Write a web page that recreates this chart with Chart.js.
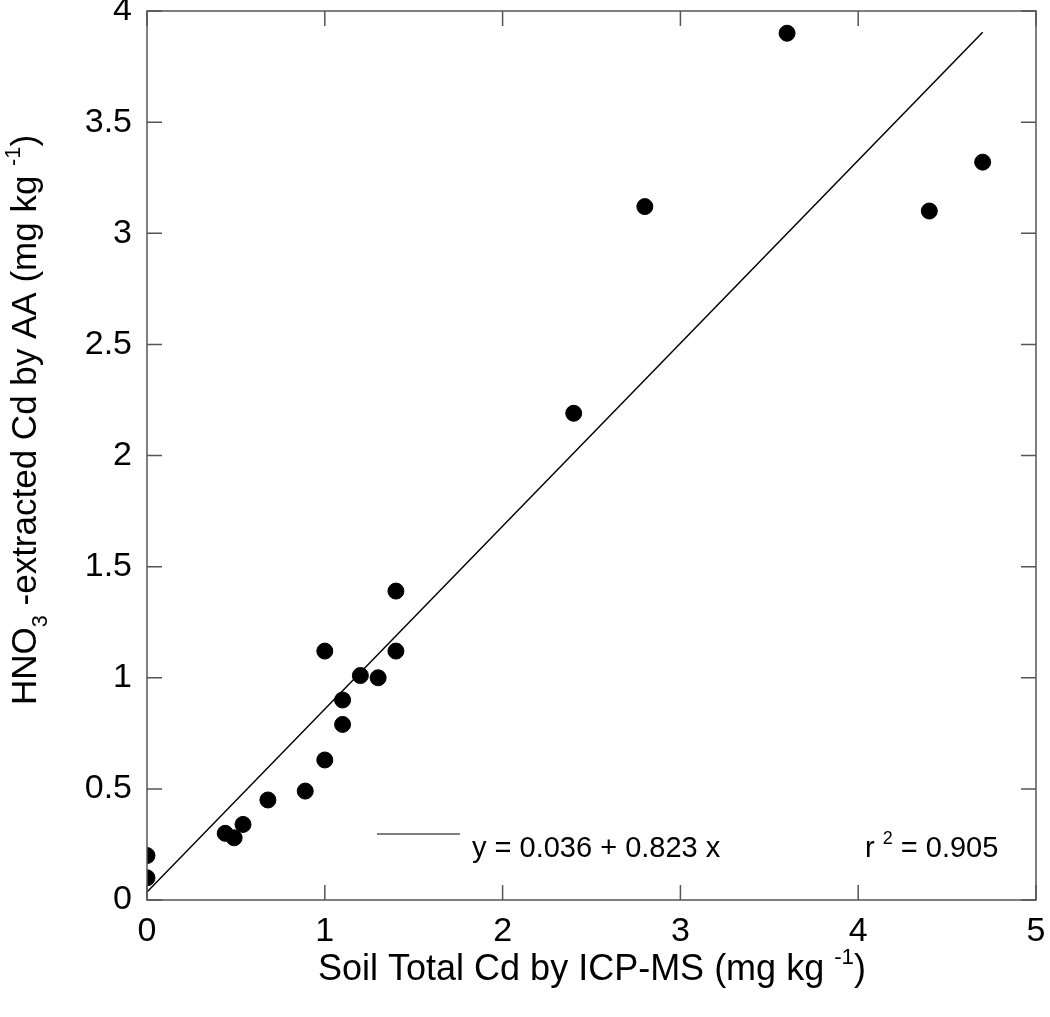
<!DOCTYPE html>
<html>
<head>
<meta charset="utf-8">
<script src="https://cdn.jsdelivr.net/npm/chart.js@4"></script>
<style>
  body { margin: 0; background: #fff; }
  #wrap { width: 1050px; height: 1017px; }
</style>
</head>
<body>
<div id="wrap"><canvas id="cdChart"></canvas></div>
<script>
// soil total Cd (ICP-MS) vs HNO3-extracted Cd (AA), mg/kg
const soilTotalCd = [0, 0, 0.44, 0.49, 0.54, 0.68, 0.89, 1.0, 1.0, 1.1, 1.1, 1.2, 1.3, 1.4, 1.4, 2.4, 2.8, 3.6, 4.4, 4.7];
const hno3Cd      = [0.10, 0.20, 0.30, 0.28, 0.34, 0.45, 0.49, 0.63, 1.12, 0.79, 0.90, 1.01, 1.00, 1.12, 1.39, 2.19, 3.12, 3.90, 3.10, 3.32];

// fitted line end points, y = 0.036 + 0.823 x
const fitX = [0, 4.7];
const fitY = [0.036, 3.904];

const xTicks = [0, 1, 2, 3, 4, 5];
const yTicks = [0, 0.5, 1, 1.5, 2, 2.5, 3, 3.5, 4];

const FONT = '"Liberation Sans", Arial, Helvetica, sans-serif';

// draws a run of text pieces, some raised or lowered
function richText(ctx, parts, x, y, size, align) {
    let total = 0;
    parts.forEach(p => {
        ctx.font = (size * (p.s || 1)) + 'px ' + FONT;
        p.w = ctx.measureText(p.t).width;
        total += p.w;
    });
    let cx = align === 'center' ? x - total / 2 : x;
    parts.forEach(p => {
        ctx.font = (size * (p.s || 1)) + 'px ' + FONT;
        ctx.fillText(p.t, cx, y + (p.dy || 0) * size);
        cx += p.w;
    });
}

const framePlugin = {
    id: 'frame',
    afterDraw(chart) {
        const ctx = chart.ctx;
        const a = chart.chartArea;
        const xs = chart.scales.x, ys = chart.scales.y;
        ctx.save();
        ctx.strokeStyle = '#555';
        ctx.lineWidth = 1.5;
        ctx.strokeRect(a.left, a.top, a.right - a.left, a.bottom - a.top);
        const tl = 15;
        ctx.beginPath();
        xTicks.forEach(v => {
            const px = xs.getPixelForValue(v);
            ctx.moveTo(px, a.bottom); ctx.lineTo(px, a.bottom - tl);
            ctx.moveTo(px, a.top); ctx.lineTo(px, a.top + tl);
        });
        yTicks.forEach(v => {
            const py = ys.getPixelForValue(v);
            ctx.moveTo(a.left, py); ctx.lineTo(a.left + tl, py);
            ctx.moveTo(a.right, py); ctx.lineTo(a.right - tl, py);
        });
        ctx.stroke();

        // legend swatch + equation
        ctx.strokeStyle = '#000';
        ctx.lineWidth = 1.2;
        ctx.beginPath();
        ctx.moveTo(377, 834); ctx.lineTo(460, 834);
        ctx.stroke();

        ctx.fillStyle = '#000';
        ctx.textBaseline = 'alphabetic';
        ctx.textAlign = 'left';
        richText(ctx, [{t: 'y = 0.036 + 0.823 x'}], 472, 857, 29, 'left');
        richText(ctx, [{t: 'r '}, {t: '2', s: 0.62, dy: -0.45}, {t: ' = 0.905'}], 865, 857, 29, 'left');

        // axis titles
        richText(ctx, [{t: 'Soil Total Cd by ICP-MS (mg kg '}, {t: '-1', s: 0.62, dy: -0.45}, {t: ')'}], 592, 980, 36, 'center');

        ctx.translate(36, 420);
        ctx.rotate(-Math.PI / 2);
        richText(ctx, [{t: 'HNO'}, {t: '3', s: 0.62, dy: 0.3}, {t: ' -extracted Cd by AA (mg kg '}, {t: '-1', s: 0.62, dy: -0.45}, {t: ')'}], 0, 0, 35, 'center');
        ctx.restore();
    }
};

const ctx = document.getElementById('cdChart').getContext('2d');
const cdChart = new Chart(ctx, {
    type: 'scatter',
    data: {
        datasets: [
            {
                label: 'Samples',
                data: soilTotalCd.map((x, i) => ({x: x, y: hno3Cd[i]})),
                backgroundColor: '#000',
                borderColor: '#000',
                pointRadius: 8,
                pointHoverRadius: 8,
            },
            {
                type: 'line',
                label: 'Fit',
                data: fitX.map((x, i) => ({x: x, y: fitY[i]})),
                borderColor: '#000',
                borderWidth: 1.5,
                pointRadius: 0,
                fill: false,
            },
        ]
    },
    options: {
        responsive: true,
        maintainAspectRatio: false,
        animation: false,
        layout: { padding: { top: 11, right: 14, left: 0, bottom: 0 } },
        plugins: {
            legend: { display: false },
            tooltip: { enabled: false },
        },
        scales: {
            x: {
                type: 'linear',
                min: 0,
                max: 5,
                afterBuildTicks: s => { s.ticks = xTicks.map(v => ({value: v})) },
                afterFit: s => { s.height = 117; s.paddingLeft = 0; s.paddingRight = 0 },
                grid: { display: false, drawTicks: false },
                border: { display: false },
                ticks: {
                    color: '#000',
                    padding: 11,
                    maxRotation: 0,
                    font: { family: FONT, size: 34 },
                    callback: v => String(v),
                },
            },
            y: {
                min: 0,
                max: 4,
                afterBuildTicks: s => { s.ticks = yTicks.map(v => ({value: v})) },
                afterFit: s => { s.width = 147; s.paddingTop = 0; s.paddingBottom = 0 },
                grid: { display: false, drawTicks: false },
                border: { display: false },
                ticks: {
                    color: '#000',
                    padding: 15,
                    font: { family: FONT, size: 34 },
                    callback: v => String(v),
                },
            },
        }
    },
    plugins: [framePlugin]
});
</script>
</body>
</html>
